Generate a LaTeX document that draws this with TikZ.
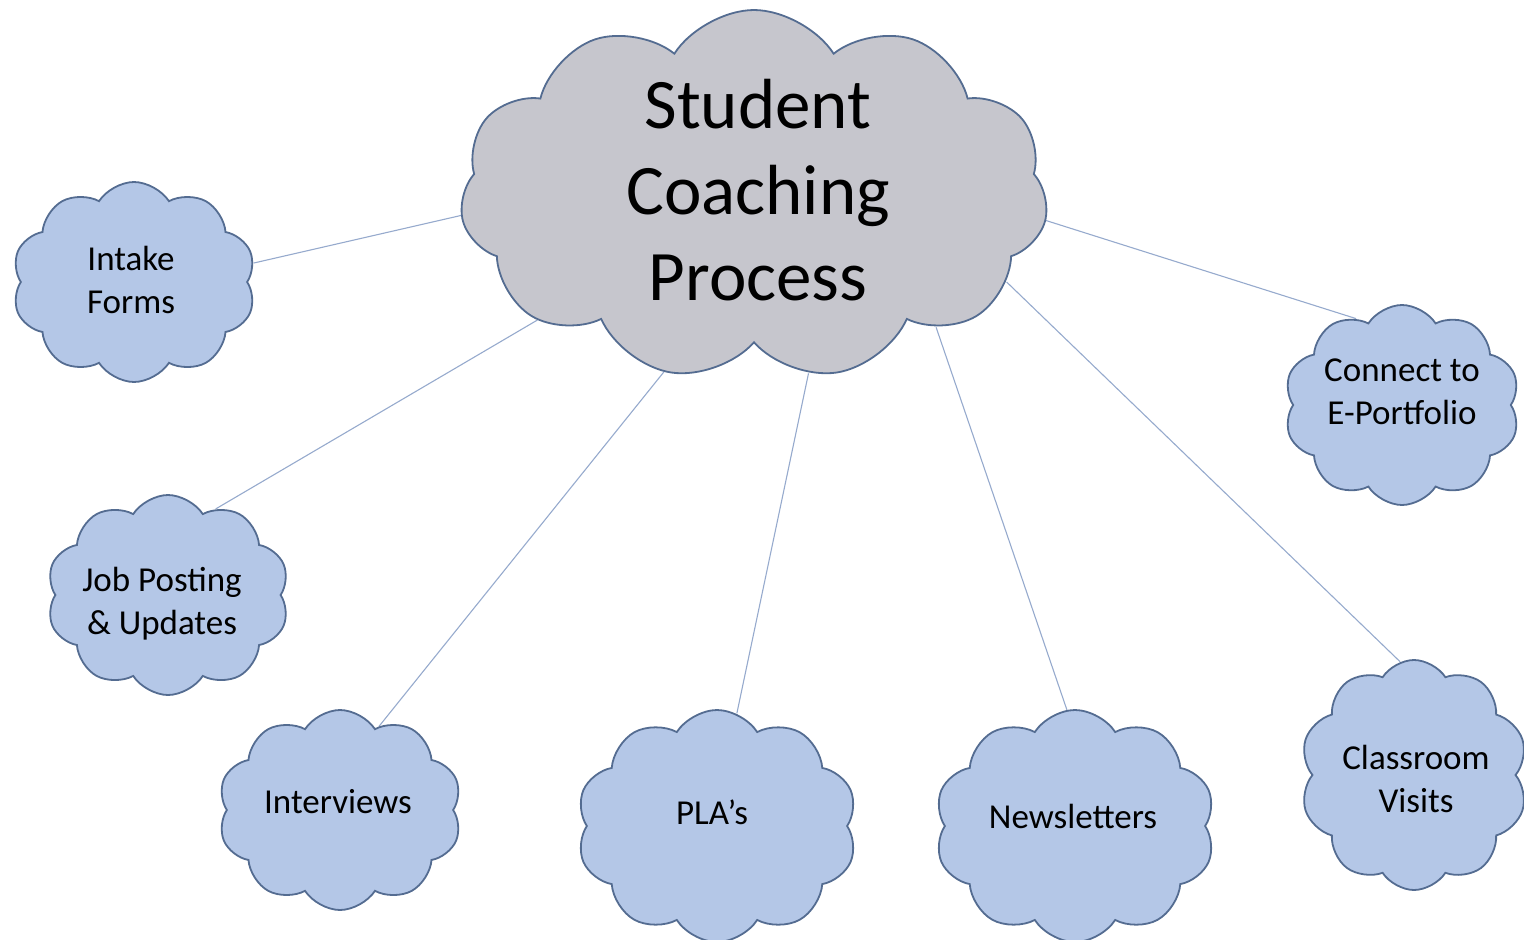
\documentclass[tikz,border=0pt]{standalone}
\usepackage{fontspec}
\setmainfont{Carlito}
\usetikzlibrary{shapes.symbols,backgrounds}
\definecolor{cloudblue}{RGB}{180,199,231}
\definecolor{cloudgray}{RGB}{198,198,205}
\definecolor{cloudline}{RGB}{84,108,145}
\definecolor{linkline}{RGB}{150,170,205}
\tikzset{
  puff/.style={cloud, cloud puffs=10, cloud puff arc=115, cloud ignores aspect,
    draw=cloudline, line width=1.8pt, inner sep=0pt},
  smallcloud/.style={puff, fill=cloudblue},
  bigcloud/.style={puff, cloud puffs=11, fill=cloudgray},
  smalltext/.style={align=center, font=\fontsize{35}{43}\selectfont, inner sep=0pt},
  bigtext/.style={align=center, font=\fontsize{71}{86}\selectfont, inner sep=0pt},
  link/.style={draw=linkline, line width=1.1pt}
}
\begin{document}
\begin{tikzpicture}[x=1pt,y=-1pt]
\useasboundingbox (0,0) rectangle (1524,940);
% clouds
\node[bigcloud, minimum width=588pt, minimum height=370pt] (c) at (754,195) {};
\node[smallcloud, minimum width=244pt, minimum height=200pt] (intake) at (134,282) {};
\node[smallcloud, minimum width=243pt, minimum height=200pt] (job) at (168,595) {};
\node[smallcloud, minimum width=244pt, minimum height=200pt] (inter) at (340,810) {};
\node[smallcloud, minimum width=281pt, minimum height=232pt] (pla) at (717,826) {};
\node[smallcloud, minimum width=281pt, minimum height=232pt] (news) at (1075,826) {};
\node[smallcloud, minimum width=236pt, minimum height=200pt] (conn) at (1402,405) {};
\node[smallcloud, minimum width=228pt, minimum height=230pt] (class) at (1414,775) {};
% texts
\node[bigtext] at (758,190) {Student\\Coaching\\Process};
\node[smalltext] at (131,280) {Intake\\Forms};
\node[smalltext] at (162,604) {Job Posting\\\& Updates};
\node[smalltext] at (338,802) {Interviews};
\node[smalltext] at (712,812) {PLA’s};
\node[smalltext] at (1073,816) {Newsletters};
\node[smalltext] at (1402,392) {Connect to\\E-Portfolio};
\node[smalltext] at (1416,779) {Classroom\\Visits};
% links
\begin{scope}[on background layer]
\draw[link] (c.184) -- (intake.9);
\draw[link] (c.210) -- (job.61);
\draw[link] (c.243) -- (inter.65);
\draw[link] (c.287) -- (pla.80);
\draw[link] (c.324) -- (news.94);
\draw[link] (c.341) -- (class.97);
\draw[link] (c.355) -- (conn.118);
\end{scope}
\end{tikzpicture}
\end{document}
